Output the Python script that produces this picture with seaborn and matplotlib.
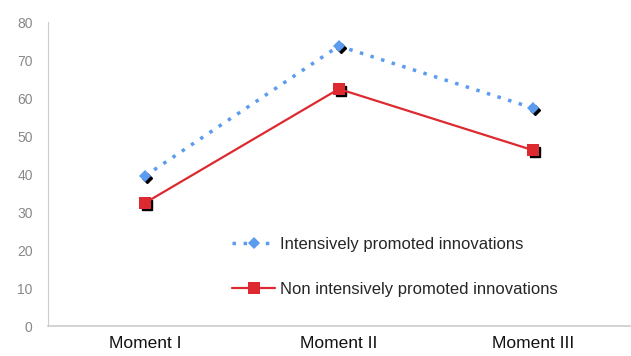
import matplotlib
matplotlib.use("Agg")
import matplotlib.pyplot as plt
import matplotlib.transforms as mtransforms
import seaborn as sns
import pandas as pd

moments = ["Moment I", "Moment II", "Moment III"]
intensive = [39.5, 73.7, 57.4]
non_intensive = [32.4, 62.4, 46.3]
y_ticks = [0, 10, 20, 30, 40, 50, 60, 70, 80]

sns.set_theme(style="white")
plt.rcParams["font.family"] = ["Liberation Sans", "DejaVu Sans"]

df = pd.DataFrame({"x": range(len(moments)), "a": intensive, "b": non_intensive})

fig = plt.figure(figsize=(6.31, 3.56), dpi=100)
ax = fig.add_axes([0.076, 0.084, 0.922, 0.854])

# black drop shadows behind markers
shadow = ax.transData + mtransforms.ScaledTranslation(2 / 100, -2 / 100, fig.dpi_scale_trans)
ax.plot(df["x"], df["a"], "D", color="black", markersize=5, transform=shadow, zorder=2)
ax.plot(df["x"], df["b"], "s", color="black", markersize=7, transform=shadow, zorder=2)

sns.lineplot(data=df, x="x", y="a", ax=ax, color="#5b9bf0", linestyle=(0, (1, 2.2)),
             linewidth=2.5, marker="D", markersize=6, markeredgewidth=0,
             label="Intensively promoted innovations", zorder=3)
sns.lineplot(data=df, x="x", y="b", ax=ax, color="#dd2a30", linewidth=1.6,
             marker="s", markersize=8, markeredgewidth=0,
             label="Non intensively promoted innovations", zorder=3)

ax.set_xlim(-0.5, len(moments) - 0.5)
ax.set_ylim(0, 80)
ax.set_yticks(y_ticks)
ax.set_yticklabels([str(v) for v in y_ticks], color="#888888", fontsize=10)
ax.set_xticks(range(len(moments)))
ax.set_xticklabels(moments, fontsize=12.5, color="#111111")
ax.set_xticks([0.5, 1.5], minor=True)
ax.tick_params(axis="x", which="major", length=0, pad=7)
ax.tick_params(axis="x", which="minor", length=5, width=0.8, color="#555555", direction="in")
ax.tick_params(axis="y", length=3, width=0.6, color="#cccccc", pad=8)
ax.set_xlabel("")
ax.set_ylabel("")

for side in ["top", "right"]:
    ax.spines[side].set_visible(False)
ax.spines["left"].set_color("#cccccc")
ax.spines["bottom"].set_color("#cccccc")
ax.spines["left"].set_linewidth(0.8)
ax.spines["bottom"].set_linewidth(1.2)

leg = ax.legend(loc="center left", bbox_to_anchor=(0.302, 0.196), frameon=False,
                borderpad=0, fontsize=12, labelspacing=1.8, handlelength=2.6,
                handletextpad=0.3)

fig.savefig("out.png", dpi=100)
